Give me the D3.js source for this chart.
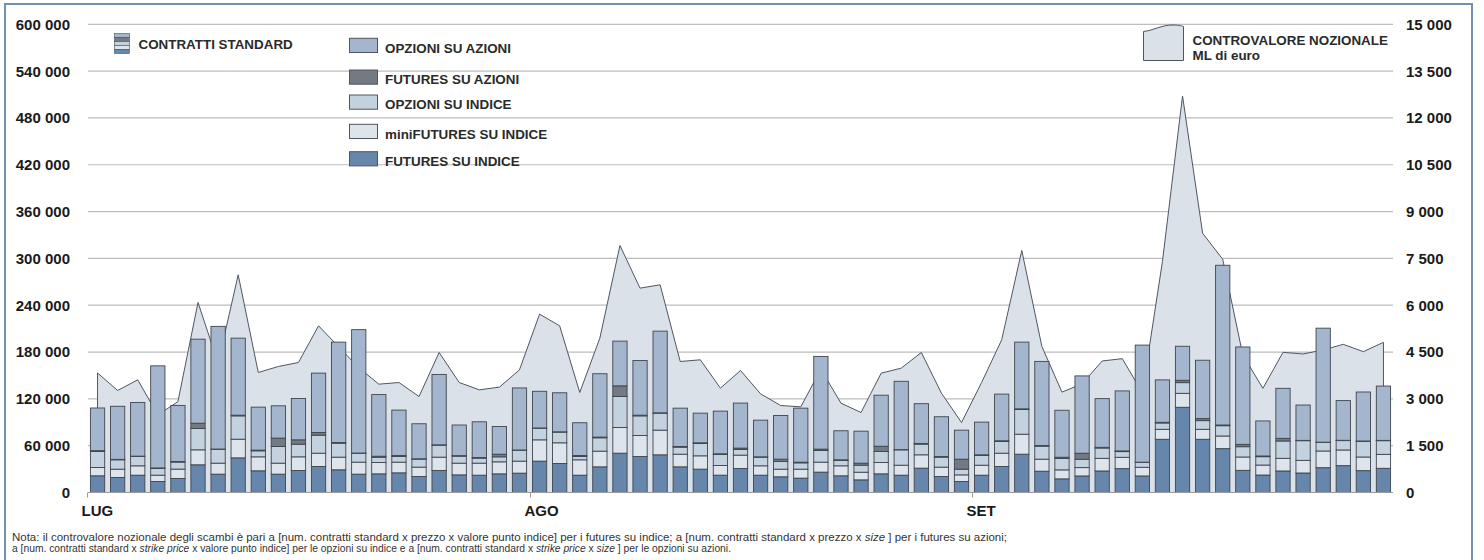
<!DOCTYPE html>
<html><head><meta charset="utf-8">
<script src="https://cdn.jsdelivr.net/npm/d3@7"></script>
<style>
html,body{margin:0;padding:0;background:#fff;}
svg{display:block;font-family:"Liberation Sans",Arial,sans-serif;}
</style></head><body>
<svg id="c" width="1484" height="560"></svg>
<script>
// ---------- DATA ----------
const categories = [
 "L01","L02","L03","L04","L05","L06","L07","L08","L09","L10","L11","L12","L13","L14","L15","L16","L17","L18","L19","L20","L21","L22",
 "A01","A02","A03","A04","A05","A06","A07","A08","A09","A10","A11","A12","A13","A14","A15","A16","A17","A18","A19","A20","A21","A22",
 "S01","S02","S03","S04","S05","S06","S07","S08","S09","S10","S11","S12","S13","S14","S15","S16","S17","S18","S19","S20","S21"];
const monthLabels = ["LUG","AGO","SET"];
const monthStarts = ["L01","A01","S01"];

const futuresIndice = [21400,19200,22200,14100,18000,35500,23500,44400,27800,23500,28200,33300,29100,23500,23900,25200,20500,28200,22600,22200,23900,24800,
 40200,37200,22200,32900,50400,46100,48300,32900,29900,22200,30800,22200,20100,18400,26100,21400,16200,23900,22200,31200,20500,14100,
 22200,33300,49100,27300,17500,21200,27600,30600,21200,68200,109200,68200,56200,28400,22400,27600,25000,31800,34400,28000,31000];
const miniFuturesIndice = [10700,10700,12000,8100,12000,19200,14100,23900,17900,14100,17500,17100,16200,15400,14500,13700,12000,17100,15000,15400,15400,15400,
 27300,26500,19700,20100,32900,26900,31600,16200,17100,12400,17100,12000,9800,11500,12800,12800,9800,14500,12800,17100,12000,8500,
 12800,17100,25600,15400,11500,10700,16200,14500,11100,12800,17900,12800,16200,17100,12800,16200,16200,21400,20100,17500,17900];
const opzioniIndice = [20500,12000,12000,8500,9000,27300,17900,29900,7700,21400,16200,23100,17900,11500,6800,7300,10300,15400,9000,6400,6400,14100,
 15000,13700,4300,17100,39700,25200,21800,9000,15800,14100,7300,11100,9800,8100,15000,6800,9000,14100,19700,13700,12800,7300,
 12400,15000,31600,16700,14500,10700,13200,7300,6400,8100,13700,11100,13200,13200,10700,22200,25200,11100,12000,20100,17500];
const futuresAzioni = [1000,600,400,800,800,6800,200,900,900,10700,5600,3400,900,200,1300,1300,400,400,600,900,3400,200,
 200,400,1300,900,13700,900,400,900,900,900,1700,400,3000,900,1700,900,2600,6800,200,900,900,12800,
 900,900,900,900,1700,7700,900,900,200,900,3000,2600,900,3000,900,3400,400,200,400,400,400];
const opzioniAzioni = [54700,68000,68800,130800,71800,107700,157200,98700,55100,41400,53000,76100,128600,158100,79000,58100,44900,90200,39300,45700,35500,79500,
 47000,50000,41900,81200,57300,70100,104700,49100,38000,54700,57700,47000,56000,69200,118800,37200,41000,65400,87600,50900,50900,37200,
 41900,59800,85500,107700,60200,99100,62400,76900,150000,54300,43600,74800,204700,124800,44900,64100,45300,146100,50900,62800,69600];
const controvaloreNozionale = [3830,3268,3610,2484,2910,6088,4144,6974,3845,4037,4165,5340,4667,4000,3471,3524,3076,4486,3524,3289,3375,3930,
 5714,5340,3204,4945,7914,6547,6654,4197,4251,3343,3909,3161,2787,2745,3950,2862,2563,3823,3984,4486,3183,2243,
 3524,4892,7754,4678,3215,3480,4213,4288,3200,7400,12704,8304,7473,4405,3338,4491,4438,4566,4747,4512,4811];

const leftTicks = [0,60000,120000,180000,240000,300000,360000,420000,480000,540000,600000];
const rightTicks = [0,1500,3000,4500,6000,7500,9000,10500,12000,13500,15000];

const seriesKeys = ["futuresIndice","miniFuturesIndice","opzioniIndice","futuresAzioni","opzioniAzioni"];
const seriesNames = {
  opzioniAzioni:"OPZIONI SU AZIONI", futuresAzioni:"FUTURES SU AZIONI", opzioniIndice:"OPZIONI SU INDICE",
  miniFuturesIndice:"miniFUTURES SU INDICE", futuresIndice:"FUTURES SU INDICE"};
const seriesColors = {
  opzioniAzioni:"#a4b6cd", futuresAzioni:"#737a84", opzioniIndice:"#c4d1df",
  miniFuturesIndice:"#dde4ec", futuresIndice:"#6786ab"};
const legendOrder = ["opzioniAzioni","futuresAzioni","opzioniIndice","miniFuturesIndice","futuresIndice"];
const noteLine1 = ["Nota: il controvalore nozionale degli scambi è pari a [num. contratti standard x prezzo x valore punto indice] per i futures su indice; a [num. contratti standard x prezzo x ", "size", " ] per i futures su azioni;"];
const noteLine2 = ["a [num. contratti standard x ", "strike price", "  x valore punto indice] per le opzioni su indice e a [num. contratti standard x ", "strike price", "  x ", "size", " ] per le opzioni su azioni."];

// ---------- BUILD ----------
const table = categories.map((c,i)=>({
  cat:c, futuresIndice:futuresIndice[i], miniFuturesIndice:miniFuturesIndice[i], opzioniIndice:opzioniIndice[i],
  futuresAzioni:futuresAzioni[i], opzioniAzioni:opzioniAzioni[i], notional:controvaloreNozionale[i]}));

const svg = d3.select("#c");
const X0 = 88, X1 = 1393, YT = 24.3, YB = 492.5;

const x = d3.scaleBand().domain(categories).range([X0, X1]).paddingInner(0.29).paddingOuter(0.12);
const yL = d3.scaleLinear().domain([0,600000]).range([YB, YT]);
const yR = d3.scaleLinear().domain([0,15000]).range([YB, YT]);
const loc = d3.formatLocale({decimal:",", thousands:"\u00a0", grouping:[3], currency:["","€"]});
const fmt = loc.format(",d");

// frame
svg.append("rect").attr("x",5).attr("y",4).attr("width",1467).attr("height",600)
  .attr("fill","none").attr("stroke","#7290b0").attr("stroke-width",2);

// gridlines
svg.append("g").selectAll("line").data(leftTicks.filter(d=>d>0)).join("line")
  .attr("x1",X0).attr("x2",X1).attr("y1",d=>yL(d)).attr("y2",d=>yL(d))
  .attr("stroke","#bdbdbd").attr("stroke-width",1.2);

// area
const cx = d => x(d.cat) + x.bandwidth()/2;
const area = d3.area().x(cx).y0(YB).y1(d=>yR(d.notional));
svg.append("path").datum(table).attr("d",area)
  .attr("fill","#dae1e9").attr("stroke","#4e5661").attr("stroke-width",1).attr("stroke-linejoin","miter");

// bars
const stack = d3.stack().keys(seriesKeys)(table);
svg.append("g").selectAll("g").data(stack).join("g")
  .attr("fill",s=>seriesColors[s.key])
  .selectAll("rect").data(s=>s).join("rect")
  .attr("x",d=>x(d.data.cat)).attr("width",x.bandwidth())
  .attr("y",d=>yL(d[1])).attr("height",d=>Math.max(0.01,yL(d[0])-yL(d[1])))
  .attr("stroke","#3f454d").attr("stroke-width",0.9);

// baseline
svg.append("line").attr("x1",X0).attr("x2",X1).attr("y1",YB).attr("y2",YB)
  .attr("stroke","#9a9a9a").attr("stroke-width",1);

// month ticks + labels
const mt = svg.append("g");
monthStarts.forEach((c,i)=>{
  const px = x(c) - x.step()*x.paddingInner()/2;
  const tx = Math.round(px)+0.5;
  mt.append("line").attr("x1",tx).attr("x2",tx).attr("y1",YB).attr("y2",YB+5).attr("stroke","#9a9a9a");
  mt.append("text").attr("x",tx-6).attr("y",516).attr("font-size",15).attr("font-weight","bold")
    .attr("fill","#1a1a1a").text(monthLabels[i]);
});

// left axis labels
svg.append("g").selectAll("text").data(leftTicks).join("text")
  .attr("x",70).attr("y",d=>yL(d)).attr("dy","0.36em").attr("text-anchor","end")
  .attr("font-size",15).attr("font-weight","bold").attr("fill","#1a1a1a").text(d=>fmt(d));
// right axis labels
svg.append("g").selectAll("text").data(rightTicks).join("text")
  .attr("x",1406).attr("y",d=>yR(d)).attr("dy","0.36em").attr("text-anchor","start")
  .attr("font-size",15).attr("font-weight","bold").attr("fill","#1a1a1a").text(d=>fmt(d));

// legend: contratti standard
const lg = svg.append("g");
const icon = lg.append("g");
const iconKeys = ["opzioniAzioni","futuresAzioni","opzioniIndice","miniFuturesIndice","futuresIndice"];
iconKeys.forEach((k,i)=>{
  icon.append("rect").attr("x",114.5).attr("y",33.5+i*4).attr("width",15).attr("height",4)
    .attr("fill",seriesColors[k]).attr("stroke","#4a5058").attr("stroke-width",0.6);
});
lg.append("text").attr("x",138.5).attr("y",49).attr("font-size",13.4).attr("font-weight","bold")
  .attr("fill","#2a2a2a").text("CONTRATTI STANDARD");

const boxTops = [38.3,70,95,124.3,151.7];
legendOrder.forEach((k,i)=>{
  lg.append("rect").attr("x",349.5).attr("y",boxTops[i]).attr("width",28).attr("height",14.2)
    .attr("fill",seriesColors[k]).attr("stroke","#50565e").attr("stroke-width",1);
  lg.append("text").attr("x",385).attr("y",boxTops[i]+14.2).attr("font-size",13.4).attr("font-weight","bold")
    .attr("fill","#2a2a2a").text(seriesNames[k]);
});

// legend: area
lg.append("path").attr("d","M1143.5,60.5 V31.5 C1153,30.5 1162,25 1172,25 C1178,25 1181,25.6 1183.5,26.5 V60.5 Z")
  .attr("fill","#dae1e9").attr("stroke","#4e5661").attr("stroke-width",1);
lg.append("text").attr("x",1192.5).attr("y",45).attr("font-size",13.4).attr("font-weight","bold")
  .attr("fill","#2a2a2a").text("CONTROVALORE NOZIONALE");
lg.append("text").attr("x",1192.5).attr("y",60).attr("font-size",13.4).attr("font-weight","bold")
  .attr("fill","#2a2a2a").text("ML di euro");

// note
function noteLine(parts, y, len){
  const t = svg.append("text").attr("x",12).attr("y",y).attr("font-size",10).attr("fill","#333")
    .attr("textLength",len).attr("lengthAdjust","spacingAndGlyphs");
  parts.forEach(p=>{
    const sp = t.append("tspan").text(p);
    if (p==="size"||p==="strike price") sp.attr("font-style","italic");
  });
}
noteLine(noteLine1, 540.5, 995);
noteLine(noteLine2, 551.5, 719);
</script>
</body></html>
